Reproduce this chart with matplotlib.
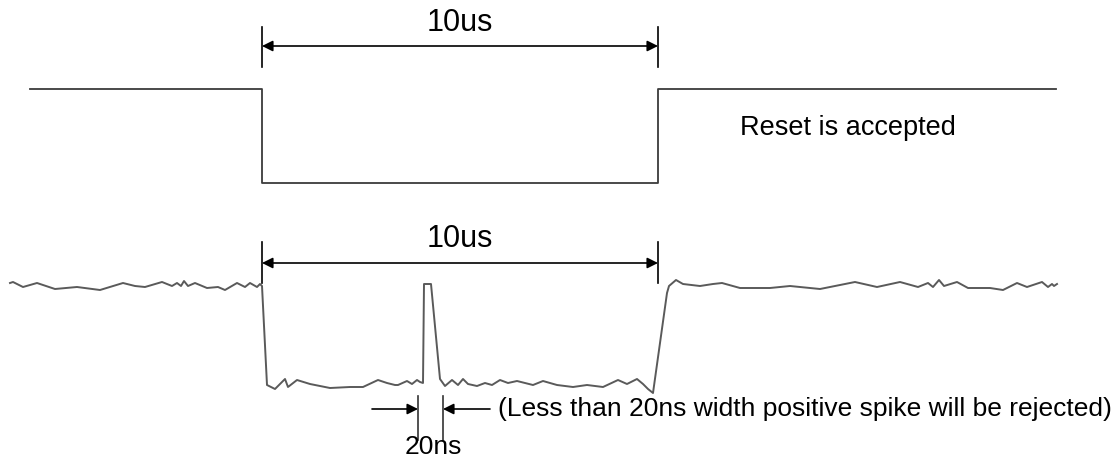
import matplotlib.pyplot as plt

plt.rcParams['font.family'] = ['Liberation Sans', 'DejaVu Sans']

# 画布坐标 = 像素坐标 (x 向右, y 向下)
# 上图: 理想复位脉冲
ideal_t = [30, 262, 262, 658, 658, 1056]
ideal_v = [89, 89, 183, 183, 89, 89]

# 下图: 带噪声的复位信号 (含 20ns 正向毛刺)
noisy_t = [10, 13, 23, 37, 55, 77, 100, 123, 135, 145, 162, 172, 177, 181, 184, 188,
           195, 207, 218, 225, 237, 245, 250, 257, 260, 262,
           267, 275, 285, 288, 297, 310, 330, 350, 363, 378, 387, 395,
           398, 407, 412, 417, 420, 423, 424, 431, 440,
           445, 452, 458, 463, 468, 477, 485, 492, 500, 508, 517, 525,
           533, 543, 557, 573, 587, 603, 618, 627, 637, 643, 648, 653,
           667, 669, 676, 683, 700, 713, 722, 740, 770, 790, 820, 840, 855,
           877, 900, 918, 928, 933, 939, 944, 957, 968, 990, 1003, 1017,
           1027, 1042, 1048, 1052, 1054, 1057]
noisy_v = [283, 282, 287, 283, 289, 287, 290, 283, 286, 287, 282, 286, 283, 286, 281, 286,
           283, 288, 287, 290, 283, 287, 283, 287, 284, 286,
           385, 389, 379, 387, 380, 384, 388, 387, 387, 380, 383, 385,
           385, 381, 384, 380, 382, 383, 284, 284, 379,
           386, 380, 385, 379, 384, 386, 383, 385, 380, 383, 381, 383,
           385, 381, 385, 387, 385, 387, 380, 384, 379, 384, 389, 393,
           293, 286, 280, 284, 286, 284, 283, 288, 288, 286, 289, 285, 282,
           287, 282, 287, 283, 287, 280, 286, 282, 288, 288, 290, 283,
           287, 282, 287, 284, 286, 284]

LINE = '#3c3c3c'
ARROW = dict(color='black', lw=1.2, shrinkA=0, shrinkB=0, mutation_scale=16)


def dimension(ax, x0, x1, y, y_top, y_bot, label, label_y):
    """画带两端竖线的双向尺寸箭头"""
    ax.plot([x0, x0], [y_top, y_bot], color='black', lw=1.2)
    ax.plot([x1, x1], [y_top, y_bot], color='black', lw=1.2)
    ax.annotate('', xy=(x0, y), xytext=(x1, y), arrowprops=dict(arrowstyle='<|-|>', **ARROW))
    ax.text((x0 + x1) / 2, label_y, label, ha='center', va='center', fontsize=22)


fig = plt.figure(figsize=(11.2, 4.62), dpi=100)
ax = fig.add_axes([0, 0, 1, 1])
ax.set_xlim(0, 1120)
ax.set_ylim(462, 0)
ax.axis('off')

ax.plot(ideal_t, ideal_v, color=LINE, lw=1.3)
ax.plot(noisy_t, noisy_v, color='#5a5a5a', lw=1.4, solid_joinstyle='round')

dimension(ax, 262, 658, 46, 27, 67, '10us', 23)
dimension(ax, 262, 658, 263, 242, 283, '10us', 239)
ax.text(848, 128, 'Reset is accepted', ha='center', va='center', fontsize=19.5)

# 20ns 毛刺宽度标注
ax.plot([418, 418], [396, 440], color='#333333', lw=1.2)
ax.plot([443, 443], [396, 440], color='#333333', lw=1.2)
ax.annotate('', xy=(418, 409), xytext=(372, 409), arrowprops=dict(arrowstyle='-|>', **ARROW))
ax.annotate('', xy=(443, 409), xytext=(490, 409), arrowprops=dict(arrowstyle='-|>', **ARROW))
ax.text(433, 447, '20ns', ha='center', va='center', fontsize=19)
ax.text(498, 409, '(Less than 20ns width positive spike will be rejected)',
        ha='left', va='center', fontsize=19)

fig.savefig('out.png', dpi=100)
